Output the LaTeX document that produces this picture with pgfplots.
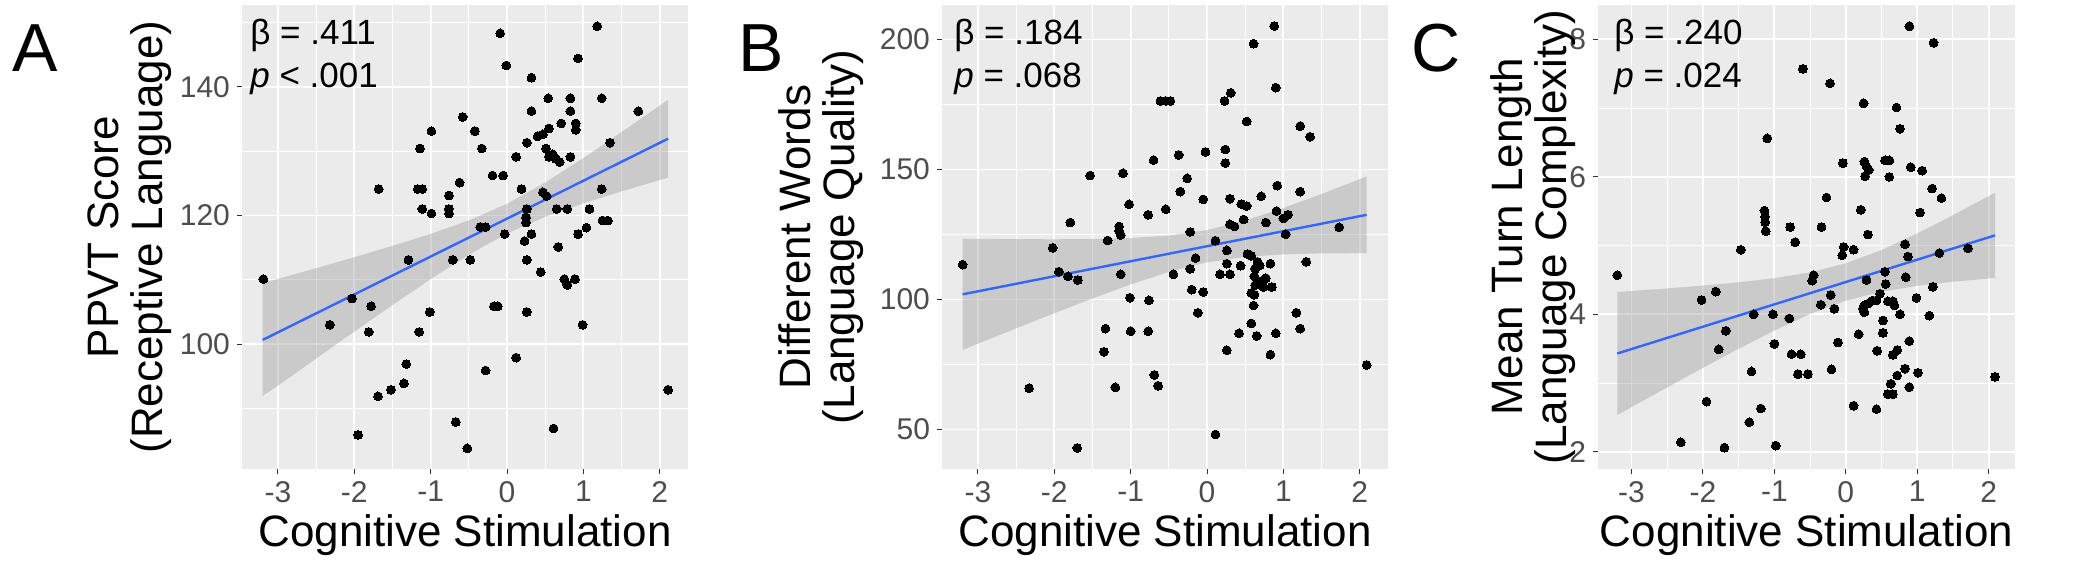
\documentclass[border=0pt]{standalone}
\usepackage{fontspec}
\setmainfont{Liberation Sans}
\usepackage{pgfplots}
\pgfplotsset{compat=1.18}

\definecolor{panelbg}{HTML}{EBEBEB}
\definecolor{ticklab}{HTML}{4D4D4D}
\definecolor{tickcol}{HTML}{333333}
\definecolor{smoothline}{HTML}{3366FF}
\definecolor{bandfill}{HTML}{999999}

\tikzset{stat/.style={anchor=base west, inner sep=0pt, font=\fontsize{17.5}{17.5}\selectfont}}

\pgfplotsset{
  ggpanel/.style={
    scale only axis,
    height=232pt,
    axis background/.style={fill=panelbg},
    axis line style={draw=none},
    grid=both,
    major grid style={white, line width=0.9pt},
    minor grid style={white, line width=0.45pt},
    tick align=outside,
    major tick length=2.5pt,
    minor tick length=0pt,
    tick style={tickcol, line width=0.5pt},
    xtick pos=lower, ytick pos=left,
    xtick={-3,-2,-1,0,1,2},
    xticklabels={-3,-2,-1,0,1,2},
    minor xtick={-2.5,-1.5,-0.5,0.5,1.5},
    xmin=-3.47, xmax=2.37,
    ticklabel style={font=\fontsize{15}{15}\selectfont, text=ticklab},
    xlabel={Cognitive Stimulation},
    xlabel style={font=\fontsize{22}{22}\selectfont, at={(axis description cs:0.5,0)}, anchor=base, yshift=-39pt, inner sep=0pt},
    ylabel style={font=\fontsize{22}{22}\selectfont, align=center, at={(axis description cs:0,0.5)}, anchor=south, inner sep=0pt},
  },
  pts/.style={only marks, mark=*, mark size=2.2pt, mark options={fill=black, draw=black, line width=0pt}},
  band/.style={fill=bandfill, fill opacity=0.4, draw=none},
  fit/.style={smoothline, line width=1.2pt},
}

\begin{document}
\begin{tikzpicture}
\useasboundingbox (0,0) rectangle (1050pt,280.5pt);

% ---------------- Panel A ----------------
\begin{axis}[ggpanel, at={(121pt,46pt)}, anchor=south west, width=223pt,
  ymin=80.6, ymax=152.7,
  ytick={100,120,140}, yticklabels={100,120,140},
  minor ytick={90,110,130,150},
  ylabel={PPVT Score\\(Receptive Language)},
  ylabel style={yshift=35pt}]
\addplot[pts] coordinates {
(-3.19,110.1) (-0.09,148.3) (-0.01,143.3) (1.18,149.4) (0.93,144.4) (0.32,141.4)
(0.54,138.2) (0.83,138.2) (1.24,138.2) (0.32,136.2) (0.83,136.2) (1.72,136.2)
(-0.58,135.3) (-0.99,133.1) (-0.42,133.1) (0.71,134.3) (0.90,134.3) (0.90,133.3)
(0.55,133.5) (0.40,132.3) (0.47,132.6) (0.26,131.3) (-1.14,130.4) (-0.33,130.4)
(1.35,131.3) (0.12,129.1) (0.51,130.4) (0.60,129.5) (0.64,128.8) (0.69,128.3)
(0.83,129.1) (0.55,129.1) (-0.19,126.2) (-0.05,126.2) (-1.68,124.1) (-1.17,124.1)
(-1.11,124.1) (-0.62,125.1) (0.19,124.1) (1.24,124.1) (0.47,123.6) (0.52,123.0)
(-0.76,123.1) (-0.76,121.0) (-0.76,120.3) (-1.11,121.0) (-0.99,120.3) (0.26,121.0)
(0.79,121.0) (0.65,121.0) (1.08,121.0) (0.25,119.7) (0.25,118.9) (1.25,119.2)
(1.32,119.2) (-0.35,118.2) (-0.28,118.2) (-0.03,117.1) (0.32,117.1) (0.93,117.1)
(1.04,118.1) (0.23,116.0) (0.67,115.1) (-1.29,113.1) (-0.71,113.1) (-0.48,113.1)
(0.26,113.1) (0.44,111.2) (0.75,110.1) (0.89,110.1) (0.79,109.2) (-2.03,107.1)
(-1.78,105.9) (-0.17,105.9) (-0.12,105.9) (-1.01,105.0) (0.26,105.0) (-2.32,103.0)
(-1.81,101.9) (-1.15,101.9) (0.99,103.0) (0.12,97.9) (-1.32,96.9) (-0.28,95.9)
(-1.35,93.9) (-1.52,92.9) (-1.69,91.9) (2.11,92.9) (-0.67,87.9) (0.61,86.9)
(-1.95,85.9) (-0.52,83.8)
};
\addplot[band] coordinates {
(-3.2,109.48) (-3,110.12) (-2.5,111.80) (-2,113.51) (-1.5,115.27) (-1,117.12)
(-0.5,119.22) (0,121.80) (0.5,125.11) (1,128.90) (1.5,132.94) (2.11,137.98)
(2.11,125.88) (1.5,123.74) (1,121.88) (0.5,119.79) (0,117.20) (-0.5,113.90)
(-1,110.10) (-1.5,106.07) (-2,101.93) (-2.5,97.76) (-3,93.54) (-3.2,91.94)
};
\addplot[fit] coordinates {(-3.2,100.65) (2.11,131.93)};
\node[stat, xshift=4pt, yshift=-20pt] at (axis description cs:0,1) {β = .411};
\node[stat, xshift=4pt, yshift=-41.5pt] at (axis description cs:0,1) {\textit{p} < .001};
\end{axis}

% ---------------- Panel B ----------------
\begin{axis}[ggpanel, at={(471pt,46pt)}, anchor=south west, width=223pt,
  ymin=34.8, ymax=213.3,
  ytick={50,100,150,200}, yticklabels={50,100,150,200},
  minor ytick={75,125,175},
  ylabel={Different Words\\(Language Quality)},
  ylabel style={yshift=39pt}]
\addplot[pts] coordinates {
(-3.20,113.4) (0.88,205.2) (0.61,198.4) (0.90,181.5) (0.31,179.5) (0.23,176.4)
(-0.61,176.4) (-0.54,176.4) (-0.48,176.4) (0.52,168.5) (1.22,166.7) (1.35,162.6)
(-0.02,156.8) (-0.37,155.6) (0.24,157.7) (0.24,152.5) (-0.70,153.6) (-1.53,147.7)
(-1.10,148.6) (-0.26,146.6) (-0.35,141.5) (0.92,143.8) (1.22,141.5) (0.71,139.7)
(-0.05,138.5) (0.30,138.8) (-1.02,136.6) (0.45,136.7) (0.52,136.0) (-0.54,134.7)
(-0.77,132.6) (0.91,134.0) (1.06,132.6) (1.00,131.2) (0.48,130.8) (-1.79,129.6)
(0.77,129.6) (0.30,128.9) (0.36,128.1) (1.73,127.8) (-1.15,128.1) (-1.15,126.4)
(-1.13,124.8) (-0.22,126.0) (1.03,125.1) (-1.30,122.7) (0.11,122.6) (-2.02,119.9)
(0.26,118.9) (0.53,117.5) (0.58,116.8) (-0.15,115.9) (1.30,114.5) (0.26,113.8)
(0.66,114.5) (0.69,113.1) (0.83,113.8) (0.44,113.0) (-0.22,111.8) (0.63,111.8)
(-1.94,110.7) (-0.44,109.7) (-1.13,109.7) (0.17,109.7) (0.30,109.7) (-1.82,108.9)
(-1.69,107.5) (0.62,108.9) (0.71,107.0) (0.77,108.2) (0.63,105.5) (0.74,104.8)
(0.85,104.8) (-0.20,103.8) (-0.05,102.9) (0.58,102.5) (0.62,101.8) (-1.01,100.7)
(-0.76,99.7) (0.61,97.7) (-0.12,94.9) (1.17,94.9) (0.58,90.8) (-1.33,88.8)
(-1.00,87.8) (-0.77,87.8) (1.22,88.8) (0.42,87.0) (0.65,86.0) (0.90,87.0)
(-1.35,79.9) (0.26,80.5) (0.83,78.8) (-0.69,71.0) (-0.64,66.8) (-1.20,66.2)
(-2.33,65.9) (2.09,74.8) (0.11,48.1) (-1.70,42.9)
};
\addplot[band] coordinates {
(-3.2,123.40) (-3,123.34) (-2.5,123.21) (-2,123.17) (-1.5,123.26) (-1,123.64)
(-0.5,124.60) (0,126.71) (0.5,130.38) (1,135.20) (1.5,140.60) (2.09,147.33)
(2.09,117.83) (1.5,117.74) (1,117.36) (0.5,116.40) (0,114.29) (-0.5,110.62)
(-1,105.80) (-1.5,100.40) (-2,94.71) (-2.5,88.89) (-3,82.98) (-3.2,80.60)
};
\addplot[fit] coordinates {(-3.2,102.0) (2.09,132.58)};
\node[stat, xshift=6pt, yshift=-20pt] at (axis description cs:0,1) {β = .184};
\node[stat, xshift=6pt, yshift=-41.5pt] at (axis description cs:0,1) {\textit{p} = .068};
\end{axis}

% ---------------- Panel C ----------------
\begin{axis}[ggpanel, at={(799pt,46pt)}, anchor=south west, width=208.5pt,
  ymin=1.75, ymax=8.5,
  ytick={2,4,6,8}, yticklabels={2,4,6,8},
  minor ytick={3,5,7},
  ylabel={Mean Turn Length\\(Language Complexity)},
  ylabel style={yshift=11pt}]
\addplot[pts] coordinates {
(-3.20,4.57) (0.89,8.19) (1.23,7.95) (-0.60,7.57) (-0.22,7.36) (0.25,7.07)
(0.71,7.01) (0.76,6.70) (-1.10,6.56) (-0.04,6.20) (0.26,6.22) (0.29,6.15)
(0.32,6.10) (0.55,6.24) (0.61,6.24) (0.27,6.01) (0.61,6.00) (0.91,6.14)
(1.07,6.09) (1.21,5.83) (-0.27,5.70) (1.34,5.69) (-1.14,5.51) (-1.13,5.42)
(-1.13,5.34) (-1.12,5.21) (0.21,5.52) (1.04,5.48) (-0.78,5.27) (-0.34,5.27)
(0.31,5.16) (-0.71,5.05) (-1.47,4.94) (-0.03,4.98) (-0.05,4.86) (0.11,4.94)
(0.83,5.02) (1.71,4.96) (1.31,4.89) (0.87,4.84) (0.55,4.62) (-0.45,4.57)
(-0.47,4.49) (0.29,4.50) (0.84,4.54) (0.56,4.44) (-1.82,4.33) (1.22,4.40)
(-0.21,4.28) (-0.35,4.14) (-0.16,4.08) (-2.02,4.21) (0.99,4.24) (0.48,4.30)
(0.43,4.20) (0.38,4.20) (0.32,4.16) (0.26,4.13) (0.24,4.08) (0.26,4.03)
(0.59,4.19) (0.66,4.19) (0.68,4.13) (-1.29,4.00) (-1.02,4.00) (-0.79,3.94)
(1.17,3.98) (0.76,4.00) (0.52,3.91) (-1.68,3.76) (0.18,3.71) (0.52,3.73)
(-1.00,3.57) (-0.11,3.59) (0.89,3.61) (-1.78,3.49) (0.44,3.47) (0.72,3.48)
(-0.76,3.42) (-0.63,3.42) (0.66,3.41) (-0.20,3.20) (-1.32,3.17) (0.83,3.21)
(-0.67,3.13) (-0.53,3.13) (0.72,3.11) (1.01,3.15) (0.63,2.99) (2.09,3.09)
(0.89,2.94) (0.59,2.84) (0.66,2.84) (-1.95,2.73) (0.11,2.67) (-1.19,2.63)
(0.43,2.62) (-1.35,2.43) (-2.31,2.14) (-1.70,2.06) (-0.98,2.09)
};
\addplot[band] coordinates {
(-3.2,4.325) (-3,4.339) (-2.5,4.377) (-2,4.418) (-1.5,4.466) (-1,4.526)
(-0.5,4.610) (0,4.742) (0.5,4.935) (1,5.176) (1.5,5.441) (2.09,5.769)
(2.09,4.529) (1.5,4.474) (1,4.414) (0.5,4.330) (0,4.198) (-0.5,4.005)
(-1,3.764) (-1.5,3.499) (-2,3.222) (-2.5,2.938) (-3,2.651) (-3.2,2.535)
};
\addplot[fit] coordinates {(-3.2,3.43) (2.09,5.149)};
\node[stat, xshift=8pt, yshift=-20pt] at (axis description cs:0,1) {β = .240};
\node[stat, xshift=8pt, yshift=-41.5pt] at (axis description cs:0,1) {\textit{p} = .024};
\end{axis}

% panel letters
\node[anchor=base west, inner sep=0pt, font=\fontsize{34}{34}\selectfont] at (6pt,244.5pt) {A};
\node[anchor=base west, inner sep=0pt, font=\fontsize{34}{34}\selectfont] at (369pt,244.5pt) {B};
\node[anchor=base west, inner sep=0pt, font=\fontsize{34}{34}\selectfont] at (705.5pt,244.5pt) {C};
\end{tikzpicture}
\end{document}
